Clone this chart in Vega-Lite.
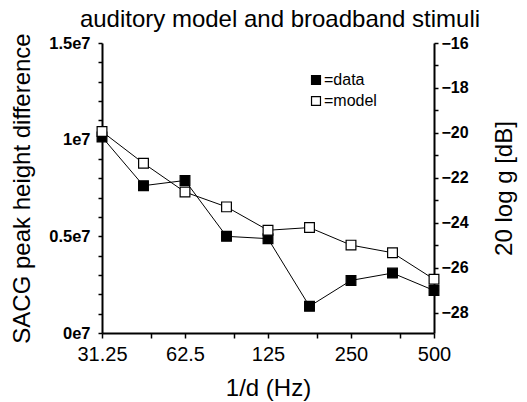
{
  "$schema": "https://vega.github.io/schema/vega-lite/v6.json",
  "autosize": "none",
  "width": 332,
  "height": 290,
  "padding": {"left": 102, "top": 43, "right": 93, "bottom": 69},
  "background": "white",
  "config": {
    "view": {"stroke": null},
    "font": "Liberation Sans",
    "axis": {"grid": false, "domainColor": "black", "domainWidth": 2, "tickColor": "black", "tickWidth": 1.5, "labelColor": "black", "titleColor": "black", "titleFontWeight": "normal"}
  },
  "title": {"text": "auditory model and broadband stimuli", "fontSize": 24, "fontWeight": "normal", "anchor": "middle", "dx": 12, "offset": 1, "color": "black", "font": "Liberation Sans"},
  "datasets": {
    "pts": [
      {"f": 31.25, "series": "data", "sacg": 10140000},
      {"f": 44.19, "series": "data", "sacg": 7620000},
      {"f": 62.5, "series": "data", "sacg": 7890000},
      {"f": 88.39, "series": "data", "sacg": 5000000},
      {"f": 125, "series": "data", "sacg": 4880000},
      {"f": 176.78, "series": "data", "sacg": 1380000},
      {"f": 250, "series": "data", "sacg": 2720000},
      {"f": 353.55, "series": "data", "sacg": 3100000},
      {"f": 500, "series": "data", "sacg": 2200000},
      {"f": 31.25, "series": "model", "db": -19.94},
      {"f": 44.19, "series": "model", "db": -21.35},
      {"f": 62.5, "series": "model", "db": -22.63},
      {"f": 88.39, "series": "model", "db": -23.29},
      {"f": 125, "series": "model", "db": -24.33},
      {"f": 176.78, "series": "model", "db": -24.21},
      {"f": 250, "series": "model", "db": -24.99},
      {"f": 353.55, "series": "model", "db": -25.33},
      {"f": 500, "series": "model", "db": -26.51}
    ]
  },
  "data": {"name": "pts"},
  "encoding": {
    "x": {
      "field": "f", "type": "quantitative",
      "scale": {"type": "log", "domain": [31.25, 500], "nice": false},
      "axis": {
        "title": "1/d (Hz)", "titleFontSize": 24, "titlePadding": 12,
        "values": [31.25, 46.875, 62.5, 93.75, 125, 187.5, 250, 375, 500],
        "labelExpr": "datum.value == 31.25 ? '31.25' : datum.value == 62.5 ? '62.5' : datum.value == 125 ? '125' : datum.value == 250 ? '250' : datum.value == 500 ? '500' : ''",
        "labelFontSize": 20, "tickSize": 5, "labelPadding": 6, "labelFlush": false, "labelOverlap": false
      }
    }
  },
  "layer": [
    {
      "transform": [{"filter": "datum.series == 'data'"}],
      "encoding": {
        "y": {
          "field": "sacg", "type": "quantitative",
          "scale": {"domain": [0, 15000000], "nice": false, "zero": false},
          "axis": {
            "orient": "left", "title": "SACG peak height difference", "titleFontSize": 24, "titlePadding": 14,
            "values": [0, 1000000, 2000000, 3000000, 4000000, 5000000, 6000000, 7000000, 8000000, 9000000, 10000000, 11000000, 12000000, 13000000, 14000000, 15000000],
            "labelExpr": "datum.value == 0 ? '0e7' : datum.value == 5000000 ? '0.5e7' : datum.value == 10000000 ? '1e7' : datum.value == 15000000 ? '1.5e7' : ''",
            "labelFontSize": 16.5, "labelFontWeight": "bold", "tickSize": 4, "labelPadding": 8, "labelOverlap": false
          }
        }
      },
      "layer": [
        {"mark": {"type": "line", "color": "black", "strokeWidth": 1}, "encoding": {}},
        {"mark": {"type": "point", "shape": "square", "size": 95, "stroke": "black", "strokeWidth": 1.2, "filled": true, "opacity": 1},
         "encoding": {"fill": {"field": "series", "type": "nominal", "scale": {"domain": ["data", "model"], "range": ["black", "white"]},
           "legend": {"title": null, "orient": "none", "legendX": 206, "legendY": 29, "labelExpr": "'=' + datum.label", "labelFontSize": 16, "labelOffset": 0, "symbolType": "square", "symbolSize": 80, "symbolStrokeColor": "black", "symbolStrokeWidth": 1.2, "rowPadding": 5, "labelColor": "black"}}}}
      ]
    },
    {
      "transform": [{"filter": "datum.series == 'model'"}],
      "encoding": {
        "y": {
          "field": "db", "type": "quantitative",
          "scale": {"domain": [-28.9, -16], "nice": false, "zero": false},
          "axis": {
            "orient": "right", "title": "20 log g [dB]", "titleFontSize": 24, "titlePadding": 48, "titleAngle": 270,
            "values": [-16, -17, -18, -19, -20, -21, -22, -23, -24, -25, -26, -27, -28],
            "labelExpr": "datum.value % 2 == 0 ? format(datum.value, 'd') : ''",
            "labelFontSize": 16, "labelFontWeight": "bold", "tickSize": 4, "labelPadding": 3, "labelOverlap": false
          }
        }
      },
      "layer": [
        {"mark": {"type": "line", "color": "black", "strokeWidth": 1}, "encoding": {}},
        {"mark": {"type": "point", "shape": "square", "size": 95, "stroke": "black", "strokeWidth": 1.2, "filled": true, "opacity": 1},
         "encoding": {"fill": {"field": "series", "type": "nominal", "scale": {"domain": ["data", "model"], "range": ["black", "white"]}}}}
      ]
    }
  ],
  "resolve": {"scale": {"y": "independent"}}
}
